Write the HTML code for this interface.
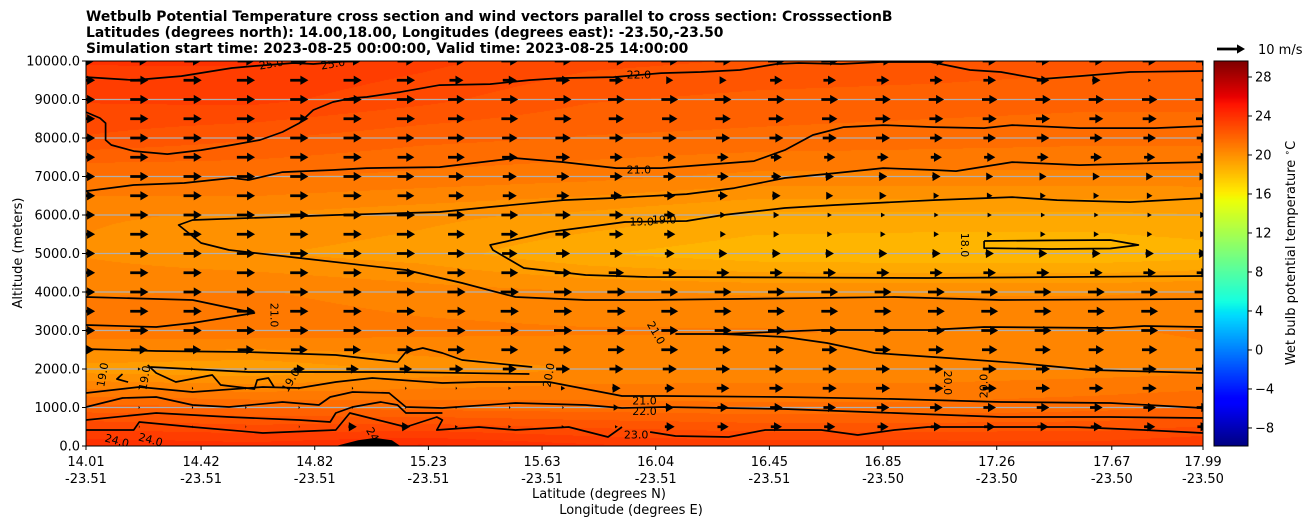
<!DOCTYPE html>
<html><head><meta charset="utf-8">
<style>
body{margin:0;background:#fff;width:1311px;height:526px;overflow:hidden;position:relative;font-family:"DejaVu Sans","Liberation Sans",sans-serif;}
#heat{position:absolute;left:86px;top:61px;}
#cbar{position:absolute;left:1214px;top:61px;}
svg{position:absolute;left:0;top:0;}
</style></head>
<body>
<canvas id="heat" width="1117" height="385"></canvas>
<canvas id="cbar" width="34" height="385"></canvas>
<svg id="svg" width="1311" height="526"></svg>
<script>
// ---- data ----
const latCols=[14.01,14.6,15.2,15.8,16.4,17.0,17.6,17.99];
const altRows=[10000,9000,8000,7000,6000,5000,4000,3000,2000,1000,0];
const t10000=[23.8,23.8,23.4,22.9,22.7,22.6,22.4,22.4];
const t9000=[23.3,23.4,22.9,22.3,22.1,22,21.9,21.9];
const t8000=[22.7,22.3,21.9,21.7,21.6,21.5,21.4,21.4];
const t7000=[21.2,21.3,21.1,20.9,20.6,20.6,20.6,20.6];
const t6000=[20.3,20.2,19.9,19.6,19.1,19.1,19.1,19.2];
const t5000=[20.2,19.8,19.5,18.8,18.4,18.3,18.3,18.5];
const t4000=[20.7,20.8,20.5,20.3,20.2,20.2,20.2,20.3];
const t3000=[21.1,21.1,20.9,20.8,20.8,20.7,20.7,20.8];
const t2000=[19.5,19.3,19.9,20.3,20.4,20.4,20.5,20.6];
const t1000=[22,21.8,21.6,21.5,21.4,21.4,21.6,21.8];
const t0=[24.2,24.0,24.4,23.9,23.6,23.6,23.5,23.8];
const tempGrid=[t10000,t9000,t8000,t7000,t6000,t5000,t4000,t3000,t2000,t1000,t0];

const xTickLat=["14.01","14.42","14.82","15.23","15.63","16.04","16.45","16.85","17.26","17.67","17.99"];
const xTickLon=["-23.51","-23.51","-23.51","-23.51","-23.51","-23.51","-23.51","-23.50","-23.50","-23.50","-23.50"];
const xTickPos=[14.01,14.42,14.825,15.23,15.635,16.04,16.445,16.85,17.255,17.665,17.99];
const yTicks=[0,1000,2000,3000,4000,5000,6000,7000,8000,9000,10000];
const cbTicks=[-8,-4,0,4,8,12,16,20,24,28];

const vecLats=[14.01,14.2,14.39,14.58,14.77,14.96,15.15,15.33,15.52,15.71,15.9,16.09,16.28,16.47,16.66,16.85,17.04,17.23,17.42,17.61,17.8,17.99];
const vecAlts=[10000,9500,9000,8500,8000,7500,7000,6500,6000,5500,5000,4500,4000,3500,3000,2500,2000,1500,1000,500];
const w10000=[6,6,6,6,6,6,6,6,6,6,6,6,6,6,6,6,6,5,5,5,5,5];
const w9500=[6.5,6.5,6.5,6.5,6.5,6.5,6.5,5,5,5,5,2.5,2.5,4.5,4.5,4.5,4.5,4.5,4.5,3,1,1];
const w9000=[6.5,6.5,6.5,6.5,6.5,6.5,6.5,6,6,6,6,6,6,6,6,5.5,5.5,5.5,5.5,5.5,5.5,5.5];
const w8500=[6.5,6.5,6.5,6.5,6.5,6.5,6.5,6,6,6,5.5,5.5,5.5,5.5,5.5,5.5,5,5,5,5,5,5];
const w8000=[6.5,6.5,6.5,6.5,6.5,6.5,6,6,5.5,5.5,5,5,5,5,5,5,4.5,4.5,4.5,4.5,4.5,4.5];
const w7500=[6.5,6.5,6.5,6.5,6.5,6.5,6,6,5.5,5,4.5,4.5,4,4,4,4,4,4,4,4,4,4];
const w7000=[6.5,6.5,6.5,6.5,6.5,6.5,6,5.5,5,4.5,4.5,4.5,4,3.5,3,3,3,2.5,2.5,2.5,2.5,2.5];
const w6500=[6.5,6.5,6.5,6.5,6.5,6.5,6,5.5,5,4.5,4,4,3.5,3,2.5,2.5,2,2,2,2,2,2];
const w6000=[6.5,6.5,6.5,6.5,6.5,6.5,6.5,6,6,5.5,5,4,2,2,1.5,1.5,1.5,1.5,1.5,1.5,1.5,2];
const w5500=[6.5,6.5,6.5,6.5,6.5,6.5,6.5,6,6,5.5,5,4,2,2,1.8,1.8,1.8,1.8,1.8,1.8,1.8,2];
const w5000=[6.5,6.5,6.5,6.5,6.5,6.5,6.5,6,5.5,5,4.5,3.5,3,3,3,3,3,3,3,3,3,3];
const w4500=[6.5,6.5,6.5,6.5,6.5,6.5,6.5,6.5,6,6,5.5,5,4.5,4.5,4.5,4.5,4.5,4.5,4.5,4.5,4.5,4.5];
const w4000=[6.5,6.5,6.5,6.5,6.5,6.5,6.5,6.5,6.5,6.5,6.5,6,6,6,6,6,6,6,6,6,6,6];
const w3500=[6.5,6.5,6.5,6.5,6.5,6.5,6.5,6.5,6.5,6.5,6.5,6,6,6,6,6,6,6,6,6,6,6];
const w3000=[6.5,6.5,6.5,6.5,6.5,6.5,6.5,6.5,6.5,6.5,6.5,6,6,6,6,6,6,6,6,6,6,6];
const w2500=[6,6,6,6,6,6,6,6,6,6,6,6,5.5,5.5,5.5,5.5,5.5,5.5,5.5,5.5,5.5,5.5];
const w2000=[1,1,1,1,4,4.5,4.5,5,5,5,5,5,5,5,5,5,5,5,5,5,5,5];
const w1500=[0.5,0.5,0.5,0.5,0.5,0.5,0.5,0.5,1,1.5,3,3.5,4.5,5,5,5,5,5,5,5,5,5];
const w1000=[0.5,0.5,0.5,0.5,0.5,0.5,0.5,0.5,0.5,0.5,2,3,4,4.5,4.5,4.5,4.5,4.5,4.5,4.5,4.5,4.5];
const w500=[0.3,0.3,0.3,0.3,0.3,3,3,1,1,1,1,3.5,4,4,4,4,4,4,4,4,4,4];
const windGrid=[w10000,w9500,w9000,w8500,w8000,w7500,w7000,w6500,w6000,w5500,w5000,w4500,w4000,w3500,w3000,w2500,w2000,w1500,w1000,w500];

const cA=[[14.01,9583],[14.18,9505],[14.35,9609],[14.53,9817],[14.61,9869],[14.75,9947],[14.82,9921],[14.95,10000]];
const cB=[[14.01,8674],[14.06,8518],[14.08,8388],[14.08,7947],[14.10,7817],[14.18,7661],[14.30,7583],[14.42,7687],[14.53,7817],[14.63,7947],[14.71,8155],[14.77,8388],[14.82,8726],[14.89,8934],[14.96,9038],[15.01,9064],[15.13,9193],[15.27,9375],[15.45,9401],[15.59,9505],[15.70,9557],[15.89,9583],[16.06,9687],[16.20,9713],[16.34,9766],[16.47,9921],[16.55,9947],[16.70,9921],[16.84,9973],[17.02,9973],[17.16,9766],[17.27,9713],[17.41,9531],[17.55,9609],[17.73,9713],[17.99,9739]];
const cC=[[14.01,6622],[14.18,6778],[14.36,6830],[14.53,6960],[14.59,6908],[14.71,7115],[14.89,7168],[15.01,7219],[15.27,7245],[15.54,7479],[15.71,7375],[15.90,7219],[16.06,7219],[16.39,7401],[16.50,7687],[16.60,8077],[16.71,8284],[16.85,8336],[17.03,8284],[17.21,8258],[17.31,8336],[17.55,8258],[17.82,8258],[17.99,8310]];
const cD=[[17.99,7375],[17.82,7349],[17.55,7297],[17.31,7375],[17.11,7141],[17.03,7168],[16.85,7219],[16.68,7089],[16.50,6960],[16.32,6700],[16.15,6544],[15.88,6440],[15.71,6388],[15.45,6207],[15.27,6077],[15.15,6051],[14.90,5999],[14.39,5869],[14.34,5739],[14.42,5272],[14.52,5090],[14.77,4883],[15.15,4571],[15.35,4233],[15.54,3870],[15.79,3792],[16.01,3792],[16.89,3870],[17.27,3792],[17.99,3818]];
const cE=[[17.99,6440],[17.73,6336],[17.47,6388],[17.31,6466],[17.03,6388],[16.68,6259],[16.50,6181],[16.28,5999],[16.15,5843],[15.93,5817],[15.66,5558],[15.45,5220],[15.46,5090],[15.57,4623],[15.79,4441],[16.01,4389],[17.01,4363],[17.99,4415]];
const cF=[[17.21,5324],[17.45,5340],[17.66,5350],[17.76,5220],[17.66,5130],[17.45,5116],[17.21,5140],[17.21,5324]];
const cG=[[14.01,3870],[14.39,3792],[14.61,3454],[14.39,3194],[14.26,3090],[14.01,3142]];
const cH1=[[16.11,2909],[16.28,2909],[16.63,3013],[17.01,3013],[17.21,3090],[17.66,3064],[17.78,3116],[17.99,3090]];
const cH2=[[16.28,2909],[16.50,2831],[16.65,2675],[16.82,2415],[17.08,2285],[17.33,2155],[17.59,1974],[17.99,1896]];
const cI=[[14.01,2519],[14.26,2467],[14.58,2441],[14.90,2363],[15.12,2181],[15.15,2441],[15.21,2545],[15.28,2415],[15.35,2233],[15.60,2052]];
const cJ=[[14.24,2052],[14.59,1922],[15.12,1922],[15.59,1870]];
const cK=[[14.23,2104],[14.26,1896],[14.33,1662],[14.46,1844],[14.49,1584],[14.61,1480],[14.62,1714],[14.66,1766],[14.68,1532]];
const cK2=[[14.14,1870],[14.12,1740],[14.16,1660]];
const cL=[[14.01,1376],[14.20,1532],[14.39,1402],[14.64,1532],[14.77,1506],[14.90,1662],[15.03,1766],[15.28,1636],[15.41,1662],[15.66,1662],[15.92,1299],[16.07,1299],[16.50,1272],[16.89,1221],[17.27,1143],[17.66,1117],[17.99,987]];
const cM=[[14.01,1013],[14.14,1247],[14.26,1272],[14.39,1065],[14.52,1013],[14.71,1143],[14.84,1065],[14.88,1272],[14.96,1402],[15.09,1376],[15.15,1013],[15.28,987],[15.54,1117],[15.79,1065],[15.92,987],[16.07,1013],[16.50,961],[16.89,857],[17.27,753],[17.66,753],[17.99,727]];
const cN=[[14.01,675],[14.26,857],[14.52,753],[14.77,675],[14.88,623],[14.90,857],[14.96,1013],[15.06,1143],[15.12,1065],[15.15,857],[15.28,857]];
const cO1=[[14.01,416],[14.18,416],[14.20,623],[14.39,493],[14.64,338],[14.90,416],[14.95,857],[15.05,675],[15.15,493],[15.26,753],[15.28,675],[15.26,416],[15.41,493],[15.54,416],[15.73,493],[15.87,234],[15.92,493]];
const cO2=[[16.02,364],[16.11,260],[16.30,234],[16.43,416],[16.63,416],[16.76,286],[16.89,416],[17.01,493],[17.27,493],[17.53,493],[17.78,416],[17.99,338]];
const contours=[cA,cB,cC,cD,cE,cF,cG,cH1,cH2,cI,cJ,cK,cK2,cL,cM,cN,cO1,cO2];
const blob=[[14.9,0],[14.98,150],[15.04,210],[15.10,150],[15.13,0]];
const labelText=["25.0","25.0","22.0","21.0","19.0","19.0","18.0","21.0","21.0","19.0","19.0","19.0","20.0","20.0","20.0","21.0","22.0","23.0","24.0","24.0","24"];
const labelLat=[14.67,14.89,15.98,15.98,15.99,16.07,17.14,14.68,16.04,14.07,14.22,14.74,15.66,17.08,17.21,16.0,16.0,15.97,14.12,14.24,15.03];
const labelAlt=[9920,9920,9635,7168,5817,5869,5220,3400,2935,1850,1770,1700,1840,1640,1560,1170,900,286,130,155,300];
const labelRot=[-10,-10,0,0,0,0,90,90,60,-80,-80,-60,-80,90,-90,0,0,0,15,15,60];

// ---- scales ----
const X0=86,X1=1203,Y0=446,Y1=61;
const latMin=14.01,latMax=17.99,vmin=-9.85,vmax=29.64;
function xs(lat){return X0+(lat-latMin)/(latMax-latMin)*(X1-X0);}
function ys(alt){return Y0-alt/10000*(Y0-Y1);}
function cy(v){return Y1+(vmax-v)/(vmax-vmin)*(Y0-Y1);}
function jet(t){t=Math.max(0,Math.min(1,t));
 let r=t<0.35?0:t<0.66?(t-0.35)/0.31:t<0.89?1:1-(t-0.89)/0.11*0.5;
 let g=t<0.125?0:t<0.375?(t-0.125)/0.25:t<0.64?1:t<0.91?1-(t-0.64)/0.27:0;
 let b=t<0.11?0.5+t/0.11*0.5:t<0.34?1:t<0.65?1-(t-0.34)/0.31:0;
 return [r*255|0,g*255|0,b*255|0];}
function interp(lat,alt){
 let i=0;while(i<latCols.length-2&&lat>latCols[i+1])i++;
 let fx=Math.max(0,Math.min(1,(lat-latCols[i])/(latCols[i+1]-latCols[i])));
 let j=0;while(j<altRows.length-2&&alt<altRows[j+1])j++;
 let fy=Math.max(0,Math.min(1,(altRows[j]-alt)/(altRows[j]-altRows[j+1])));
 const a=tempGrid[j][i],b=tempGrid[j][i+1],c=tempGrid[j+1][i],d=tempGrid[j+1][i+1];
 return (a*(1-fx)+b*fx)*(1-fy)+(c*(1-fx)+d*fx)*fy;}
(function(){const cv=document.getElementById('heat'),ctx=cv.getContext('2d');
 const im=ctx.createImageData(1117,385);
 for(let py=0;py<385;py++){const alt=(Y0-(py+61))/(Y0-Y1)*10000;
  for(let px=0;px<1117;px++){const lat=latMin+px/1117*(latMax-latMin);
   let v=Math.round(interp(lat,alt)*2)/2;const c=jet((v-vmin)/(vmax-vmin));
   const k=(py*1117+px)*4;im.data[k]=c[0];im.data[k+1]=c[1];im.data[k+2]=c[2];im.data[k+3]=255;}}
 ctx.putImageData(im,0,0);
 const cb=document.getElementById('cbar'),c2=cb.getContext('2d');
 for(let py=0;py<385;py++){const v=vmax-py/385*(vmax-vmin);const c=jet((v-vmin)/(vmax-vmin));
  c2.fillStyle=`rgb(${c[0]},${c[1]},${c[2]})`;c2.fillRect(0,py,34,1);}
})();
const NS='http://www.w3.org/2000/svg',svg=document.getElementById('svg');
function mk(tag,attrs,parent){const e=document.createElementNS(NS,tag);for(const k in attrs)e.setAttribute(k,attrs[k]);(parent||svg).appendChild(e);return e;}
const defs=mk('defs',{});const cp=mk('clipPath',{id:'clip'},defs);mk('rect',{x:X0,y:Y1,width:X1-X0,height:Y0-Y1},cp);
const plot=mk('g',{'clip-path':'url(#clip)'});


yTicks.forEach(a=>{if(a===0||a===10000)return;const l=mk('line',{x1:X0,x2:X1,y1:ys(a),y2:ys(a),stroke:'#b0b0b0','stroke-width':1.2},plot);
 
 });
contours.forEach(c=>{const p=mk('polyline',{points:c.map(q=>xs(q[0]).toFixed(1)+','+ys(q[1]).toFixed(1)).join(' '),fill:'none',stroke:'#000','stroke-width':1.7,'stroke-linejoin':'round'},plot);
 
 });
const bl=mk('polygon',{points:blob.map(q=>xs(q[0]).toFixed(1)+','+ys(q[1]).toFixed(1)).join(' '),fill:'#000'},plot);


labelText.forEach((t,i)=>{const x=xs(labelLat[i]),y=ys(labelAlt[i]);
 const e=mk('text',{x:x,y:y,'font-size':11,'text-anchor':'middle','dominant-baseline':'central',transform:`rotate(${labelRot[i]} ${x} ${y})`,fill:'#000'},plot);e.textContent=t;
 
 });
const PXMS=2.8;
function arrow(cx,cyy,sp,parent){const L=sp*PXMS;const f=Math.min(1,L/8);const hl=8*f,hw=4.6*Math.max(0.35,f),sw=1.4;
 const x0=cx-L/2,x1=cx+L/2,xh=x1-hl;
 return mk('polygon',{points:`${x0},${cyy-sw} ${xh},${cyy-sw} ${xh},${cyy-hw} ${x1},${cyy} ${xh},${cyy+hw} ${xh},${cyy+sw} ${x0},${cyy+sw}`,fill:'#000'},parent);}
windGrid.forEach((row,r)=>row.forEach((sp,c)=>{const a=arrow(xs(vecLats[c]),ys(vecAlts[r]),sp,plot);
 
 }));
const fr=mk('rect',{x:X0,y:Y1,width:X1-X0,height:Y0-Y1,fill:'none',stroke:'#000','stroke-width':1});


const cfr=mk('rect',{x:1214,y:61,width:34,height:385,fill:'none',stroke:'#000','stroke-width':1});


yTicks.forEach(a=>{const y=ys(a);mk('line',{x1:X0-4,x2:X0,y1:y,y2:y,stroke:'#000'});
 const t=mk('text',{x:X0-6,y:y+4.5,'font-size':13,'text-anchor':'end'});t.textContent=a.toFixed(1);
 
 });
xTickPos.forEach((p,i)=>{const x=xs(p);mk('line',{x1:x,x2:x,y1:Y0,y2:Y0+4,stroke:'#000'});
 const t=mk('text',{x:x,y:466,'font-size':13,'text-anchor':'middle'});t.textContent=xTickLat[i];
 
 
 const t2=mk('text',{x:x,y:483,'font-size':13,'text-anchor':'middle'});t2.textContent=xTickLon[i];
 
 });
cbTicks.forEach(v=>{const y=cy(v);mk('line',{x1:1248,x2:1252,y1:y,y2:y,stroke:'#000'});
 const t=mk('text',{x:1255,y:y+4.5,'font-size':13});t.textContent=v<0?'\u2212'+(-v):String(v);
 
 });
const key=arrow(1231,49,10,svg);

</script>
<svg width="1311" height="526" style="pointer-events:none">
<text x="86" y="21" font-size="13.9" font-weight="bold">Wetbulb Potential Temperature cross section and wind vectors parallel to cross section: CrosssectionB</text>
<text x="86" y="37" font-size="13.9" font-weight="bold">Latitudes (degrees north): 14.00,18.00, Longitudes (degrees east): -23.50,-23.50</text>
<text x="86" y="53" font-size="13.9" font-weight="bold">Simulation start time: 2023-08-25 00:00:00, Valid time: 2023-08-25 14:00:00</text>
<text x="1258" y="54" font-size="13">10 m/s</text>
<text x="599" y="498" font-size="13" text-anchor="middle">Latitude (degrees N)</text>
<text x="631" y="514" font-size="13" text-anchor="middle">Longitude (degrees E)</text>
<text x="22" y="253" font-size="13" text-anchor="middle" transform="rotate(-90 22 253)">Altitude (meters)</text>
<text x="1295" y="253" font-size="13" text-anchor="middle" transform="rotate(-90 1295 253)">Wet bulb potential temperature <tspan baseline-shift="super" font-size="9">∘</tspan>C</text>
</svg>
</body></html>
